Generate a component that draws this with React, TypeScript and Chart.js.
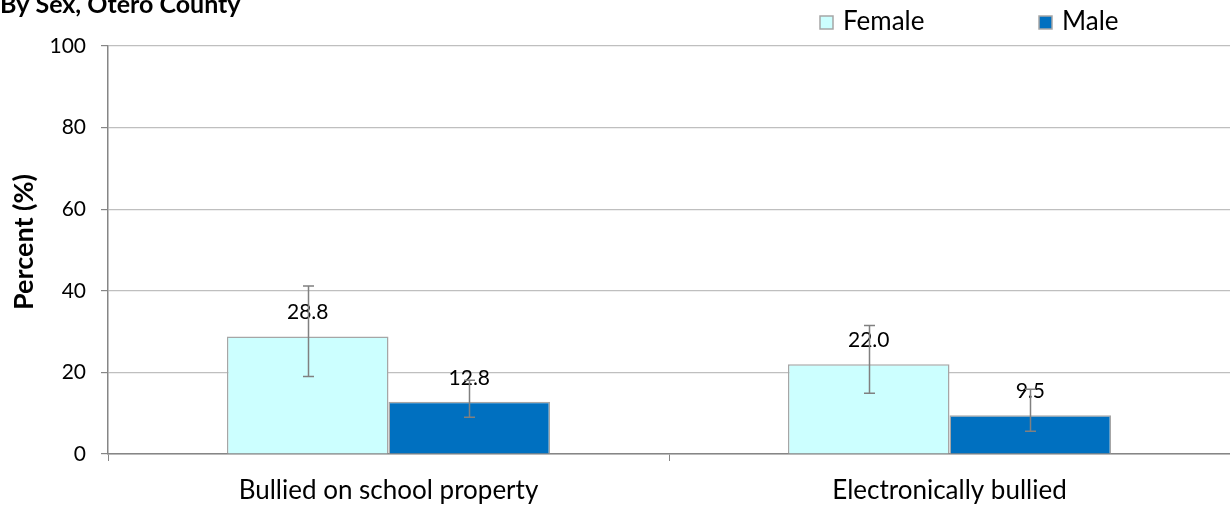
import React, { useEffect, useRef } from "react";
import { Chart, registerables } from "chart.js";

Chart.register(...registerables);

const titleText = "By Sex, Otero County";
const yAxisTitle = "Percent (%)";
const categories = ["Bullied on school property", "Electronically bullied"];
const seriesNames = ["Female", "Male"];
const femaleValues = [28.8, 22.0];
const maleValues = [12.8, 9.5];
const femaleLow = [19.0, 14.9];
const femaleHigh = [41.2, 31.5];
const maleLow = [9.0, 5.6];
const maleHigh = [18.1, 15.9];
const yTicks = [0, 20, 40, 60, 80, 100];

const FONT = "Lato, 'DejaVu Sans', sans-serif";
const femaleColor = "#CCFFFF";
const maleColor = "#0070C0";

const overlayPlugin = {
  id: "overlay",
  afterDatasetsDraw(chart: any) {
    const ctx = chart.ctx;
    const y = chart.scales.y;
    const lows = [femaleLow, maleLow];
    const highs = [femaleHigh, maleHigh];
    ctx.save();
    ctx.fillStyle = "#000";
    ctx.font = `21px ${FONT}`;
    ctx.textAlign = "center";
    ctx.textBaseline = "middle";
    chart.data.datasets.forEach((ds: any, di: number) => {
      const meta = chart.getDatasetMeta(di);
      meta.data.forEach((bar: any, i: number) => {
        ctx.fillText(ds.data[i].toFixed(1), bar.x, bar.y - 24);
      });
    });
    ctx.strokeStyle = "#808080";
    ctx.lineWidth = 1.5;
    chart.data.datasets.forEach((ds: any, di: number) => {
      const meta = chart.getDatasetMeta(di);
      meta.data.forEach((bar: any, i: number) => {
        const yl = y.getPixelForValue(lows[di][i]);
        const yh = y.getPixelForValue(highs[di][i]);
        const x = Math.round(bar.x) + 0.5;
        ctx.beginPath();
        ctx.moveTo(x, yl);
        ctx.lineTo(x, yh);
        ctx.moveTo(x - 5.5, yl);
        ctx.lineTo(x + 5.5, yl);
        ctx.moveTo(x - 5.5, yh);
        ctx.lineTo(x + 5.5, yh);
        ctx.stroke();
      });
    });
    ctx.restore();
  },
  afterDraw(chart: any) {
    const ctx = chart.ctx;
    ctx.save();
    ctx.fillStyle = "#000";
    ctx.font = `bold 25px ${FONT}`;
    ctx.textAlign = "left";
    ctx.textBaseline = "alphabetic";
    ctx.fillText(titleText, 0, 13);
    // y axis title
    ctx.save();
    ctx.translate(24, 242);
    ctx.rotate(-Math.PI / 2);
    ctx.font = `bold 27px ${FONT}`;
    ctx.textAlign = "center";
    ctx.textBaseline = "middle";
    ctx.fillText(yAxisTitle, 0, 0);
    ctx.restore();
    // legend
    const positions = [820, 1039];
    ctx.font = `26px ${FONT}`;
    ctx.textAlign = "left";
    ctx.textBaseline = "middle";
    chart.data.datasets.forEach((ds: any, di: number) => {
      const bx = positions[di];
      ctx.fillStyle = ds.backgroundColor;
      ctx.fillRect(bx, 16, 13, 13);
      ctx.strokeStyle = "#a6a6a6";
      ctx.lineWidth = 1.5;
      ctx.strokeRect(bx, 16, 13, 13);
      ctx.fillStyle = "#000";
      ctx.fillText(ds.label, bx + 23, 22);
    });
    ctx.restore();
  },
};

export default function App() {
  const ref = useRef<HTMLCanvasElement>(null);
  useEffect(() => {
    document.body.style.margin = "0";
    const chart = new Chart(ref.current!, {
      type: "bar",
      data: {
        labels: categories,
        datasets: [
          {
            label: seriesNames[0],
            data: femaleValues,
            backgroundColor: femaleColor,
            borderColor: "#a6a6a6",
            borderWidth: 1.5,
            categoryPercentage: 0.576,
            barPercentage: 1,
          },
          {
            label: seriesNames[1],
            data: maleValues,
            backgroundColor: maleColor,
            borderColor: "#a6a6a6",
            borderWidth: 1.5,
            categoryPercentage: 0.576,
            barPercentage: 1,
          },
        ],
      },
      options: {
        animation: false,
        responsive: false,
        maintainAspectRatio: false,
        layout: { padding: { top: 46, left: 0, right: 0, bottom: 0 } },
        plugins: { legend: { display: false }, tooltip: { enabled: false }, title: { display: false } },
        scales: {
          x: {
            grid: { drawOnChartArea: false, drawTicks: true, tickLength: 7, color: "#868686", tickColor: "#868686" },
            border: { color: "#868686", width: 1.5 },
            ticks: { color: "#000", font: { family: FONT, size: 26 }, padding: 14 },
            afterFit(scale: any) {
              scale.height = 54;
            },
          },
          y: {
            min: 0,
            max: 100,
            afterBuildTicks(scale: any) {
              scale.ticks = yTicks.map((v) => ({ value: v }));
            },
            grid: { color: "#bfbfbf", lineWidth: 1.2, tickLength: 7, tickColor: "#868686" },
            border: { color: "#868686", width: 1.5 },
            ticks: { color: "#000", font: { family: FONT, size: 21 }, padding: 15 },
            afterFit(scale: any) {
              scale.width = 108;
            },
          },
        },
      },
      plugins: [overlayPlugin],
    });
    return () => chart.destroy();
  }, []);
  return (
    <div style={{ position: "relative", width: 1230, height: 508 }}>
      <canvas ref={ref} width={1230} height={508} style={{ width: 1230, height: 508 }} />
    </div>
  );
}
